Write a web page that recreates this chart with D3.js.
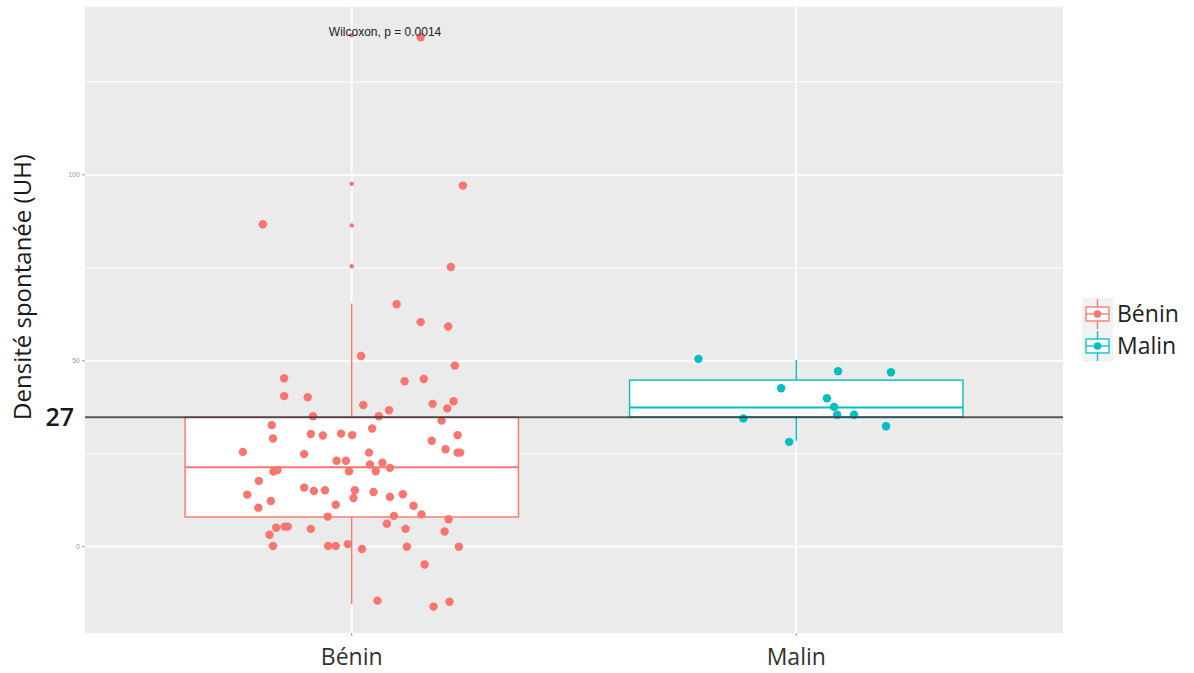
<!DOCTYPE html>
<html>
<head>
<meta charset="utf-8">
<script src="https://cdn.jsdelivr.net/npm/d3@7"></script>
<style>
  html, body { margin: 0; padding: 0; background: #fff; }
  svg { display: block; }
</style>
</head>
<body>
<svg id="chart" width="1194" height="673"></svg>
<script>
// ---------------- DATA ----------------
const categories = ["Bénin", "Malin"];
const seriesColors = ["#F8766D", "#00BFC4"];

// Box statistics: [lowerWhisker, q1, median, q3, upperWhisker]
const beninBox = [-15.4, 8.0, 21.4, 34.8, 65.4];
const malinBox = [28.5, 34.9, 37.4, 44.8, 50.2];

// Boxplot outliers (drawn on the category centre)
const beninOutliers = [137.5, 97.6, 86.4, 75.4];
const malinOutliers = [];

// Jittered observations: values and horizontal jitter (in category units)
const beninValues = [97.1, 86.7, 75.2, 65.2, 60.4, 59.2, 51.3, 48.7, 45.3, 44.5, 45.1, 40.5, 40.2, 38.1, 36.7, 38.4, 37.2, 39.1, 35.1, 35.1,
  33.9, 32.7, 29.1, 30.3, 29.9, 30.4, 30.0, 31.8, 28.5, 30.0, 25.5, 24.9, 25.3, 26.2, 25.3, 25.3, 23.1, 23.1, 22.1, 22.6,
  21.2, 20.2, 20.6, 20.3, 20.3, 17.7, 14.0, 15.9, 15.0, 15.2, 15.2, 13.1, 14.7, 13.4, 14.1, 12.3, 10.5, 11.3, 11.0, 8.1,
  8.3, 8.7, 7.4, 6.2, 5.1, 5.4, 5.4, 4.8, 4.8, 4.1, 3.2, 0.2, 0.2, 0.2, 0.7, -0.6, 0.0, 0.0, -4.8, -14.5,
  -16.1, -14.8, 137.0];
const beninJitter = [0.250, -0.200, 0.223, 0.101, 0.155, 0.217, 0.021, 0.232, -0.152, 0.119, 0.162, -0.152, -0.099, 0.026, 0.084, 0.182, 0.215, 0.229, -0.087, 0.061,
  0.202, -0.180, -0.177, -0.092, -0.065, -0.024, 0.001, 0.046, 0.180, 0.238, -0.245, -0.107, 0.039, 0.211, 0.238, 0.244, -0.034, -0.013, 0.041, 0.069,
  0.086, -0.176, -0.167, -0.006, 0.054, -0.209, -0.235, -0.107, -0.085, -0.060, 0.007, 0.004, 0.049, 0.086, 0.115, -0.182, -0.210, -0.036, 0.139, -0.054,
  0.095, 0.157, 0.218, 0.079, -0.170, -0.151, -0.144, -0.092, 0.121, 0.209, -0.185, -0.177, -0.053, -0.036, -0.009, 0.023, 0.124, 0.241, 0.164, 0.058,
  0.184, 0.220, 0.155];

const malinValues = [50.5, 47.2, 46.9, 42.6, 39.9, 37.6, 35.5, 35.5, 34.5, 32.4, 28.2];
const malinJitter = [-0.220, 0.094, 0.213, -0.034, 0.069, 0.085, 0.092, 0.130, -0.119, 0.202, -0.016];

// Axis ticks
const yMajorTicks = [0, 50, 100];
const yMinorTicks = [25, 75, 125];
const yDomain = [-23.2, 145.2];

// Reference line and its label
const refLineValue = 34.8;
const refLineLabel = "27";

const yTitle = "Densité spontanée (UH)";
const statText = "Wilcoxon, p = 0.0014";
const statTextValue = 138.5;
const statTextOffset = 0.075; // in category units, from first category

// ---------------- LAYOUT ----------------
const panel = { left: 85, right: 1063, top: 6.7, bottom: 633 };
const svg = d3.select("#chart");

const x = d3.scalePoint().domain(categories).range([panel.left, panel.right]).padding(0.6);
const step = x.step();
const y = d3.scaleLinear().domain(yDomain).range([panel.bottom, panel.top]);
const color = d3.scaleOrdinal().domain(categories).range(seriesColors);

// Panel background
svg.append("rect")
  .attr("x", panel.left).attr("y", panel.top)
  .attr("width", panel.right - panel.left).attr("height", panel.bottom - panel.top)
  .attr("fill", "#EBEBEB");

// Grid lines
const grid = svg.append("g");
grid.selectAll(".minor").data(yMinorTicks).join("line")
  .attr("x1", panel.left).attr("x2", panel.right)
  .attr("y1", d => y(d)).attr("y2", d => y(d))
  .attr("stroke", "#fff").attr("stroke-width", 1);
grid.selectAll(".major").data(yMajorTicks).join("line")
  .attr("x1", panel.left).attr("x2", panel.right)
  .attr("y1", d => y(d)).attr("y2", d => y(d))
  .attr("stroke", "#fff").attr("stroke-width", 1.8);
grid.selectAll(".vmajor").data(categories).join("line")
  .attr("x1", d => x(d)).attr("x2", d => x(d))
  .attr("y1", panel.top).attr("y2", panel.bottom)
  .attr("stroke", "#fff").attr("stroke-width", 1.8);

// Boxplots
const boxes = [
  { cat: "Bénin", stats: beninBox, outliers: beninOutliers },
  { cat: "Malin", stats: malinBox, outliers: malinOutliers }
];
const boxW = step * 0.75;
const gBox = svg.append("g");
boxes.forEach(b => {
  const cx = x(b.cat), c = color(b.cat);
  const [lo, q1, med, q3, hi] = b.stats;
  const g = gBox.append("g");
  g.append("line").attr("x1", cx).attr("x2", cx).attr("y1", y(hi)).attr("y2", y(q3))
    .attr("stroke", c).attr("stroke-width", 1.4);
  g.append("line").attr("x1", cx).attr("x2", cx).attr("y1", y(q1)).attr("y2", y(lo))
    .attr("stroke", c).attr("stroke-width", 1.4);
  g.append("rect").attr("x", cx - boxW / 2).attr("width", boxW)
    .attr("y", y(q3)).attr("height", y(q1) - y(q3))
    .attr("fill", "#fff").attr("stroke", c).attr("stroke-width", 1.4);
  g.append("line").attr("x1", cx - boxW / 2).attr("x2", cx + boxW / 2)
    .attr("y1", y(med)).attr("y2", y(med))
    .attr("stroke", c).attr("stroke-width", 2);
  g.selectAll("circle").data(b.outliers).join("circle")
    .attr("cx", cx).attr("cy", d => y(d)).attr("r", 2.2).attr("fill", c);
});

// Jittered points
const pts = [];
beninValues.forEach((v, i) => pts.push({ cat: "Bénin", v, j: beninJitter[i] }));
malinValues.forEach((v, i) => pts.push({ cat: "Malin", v, j: malinJitter[i] }));
svg.append("g").selectAll("circle").data(pts).join("circle")
  .attr("cx", d => x(d.cat) + d.j * step)
  .attr("cy", d => y(d.v))
  .attr("r", 4.2)
  .attr("fill", d => color(d.cat));

// Reference line
svg.append("line")
  .attr("x1", panel.left).attr("x2", panel.right)
  .attr("y1", y(refLineValue)).attr("y2", y(refLineValue))
  .attr("stroke", "#333").attr("stroke-opacity", 0.8).attr("stroke-width", 2);

// Stat annotation
svg.append("text")
  .attr("x", x(categories[0]) + statTextOffset * step)
  .attr("y", y(statTextValue) + 4)
  .attr("text-anchor", "middle")
  .attr("font-family", "Liberation Sans, Arial, sans-serif")
  .attr("font-size", 12)
  .attr("fill", "#222")
  .text(statText);

// Y axis ticks + labels
const yAxis = svg.append("g");
yAxis.selectAll("line").data(yMajorTicks).join("line")
  .attr("x1", panel.left - 3).attr("x2", panel.left)
  .attr("y1", d => y(d)).attr("y2", d => y(d))
  .attr("stroke", "#999").attr("stroke-width", 1);
yAxis.selectAll("text").data(yMajorTicks).join("text")
  .attr("x", panel.left - 5).attr("y", d => y(d))
  .attr("dy", "0.35em")
  .attr("text-anchor", "end")
  .attr("font-family", "Liberation Sans, Arial, sans-serif")
  .attr("font-size", 7)
  .attr("fill", "#9a9a9a")
  .text(d => d);

// Reference label
svg.append("text")
  .attr("x", 74).attr("y", y(refLineValue))
  .attr("dy", "0.36em")
  .attr("text-anchor", "end")
  .attr("font-family", "Open Sans, sans-serif")
  .attr("font-size", 25)
  .attr("font-weight", 600)
  .attr("fill", "#1a1a1a")
  .text(refLineLabel);

// X axis ticks + labels
const xAxis = svg.append("g");
xAxis.selectAll("line").data(categories).join("line")
  .attr("x1", d => x(d)).attr("x2", d => x(d))
  .attr("y1", panel.bottom).attr("y2", panel.bottom + 3)
  .attr("stroke", "#999");
xAxis.selectAll("text").data(categories).join("text")
  .attr("x", d => x(d)).attr("y", 665)
  .attr("text-anchor", "middle")
  .attr("font-family", "Open Sans, sans-serif")
  .attr("font-size", 23)
  .attr("fill", "#333")
  .text(d => d);

// Y title
svg.append("text")
  .attr("transform", `translate(31, ${(147 + 427) / 2}) rotate(-90)`)
  .attr("text-anchor", "middle")
  .attr("font-family", "Open Sans, sans-serif")
  .attr("font-size", 24)
  .attr("fill", "#1a1a1a")
  .text(yTitle);

// Legend
const legend = svg.append("g").attr("transform", "translate(1082, 298)");
const keyW = 31, keyH = 32;
categories.forEach((cat, i) => {
  const g = legend.append("g").attr("transform", `translate(0, ${i * keyH})`);
  const c = color(cat);
  g.append("rect").attr("width", keyW).attr("height", keyH).attr("fill", "#F2F2F2");
  const cx = keyW / 2, cy = keyH / 2;
  g.append("line").attr("x1", cx).attr("x2", cx).attr("y1", 1).attr("y2", keyH - 1)
    .attr("stroke", c).attr("stroke-width", 1.3);
  g.append("rect").attr("x", 4).attr("y", cy - 7).attr("width", keyW - 8).attr("height", 14)
    .attr("fill", "#fff").attr("stroke", c).attr("stroke-width", 1.3);
  g.append("line").attr("x1", 4).attr("x2", keyW - 4).attr("y1", cy).attr("y2", cy)
    .attr("stroke", c).attr("stroke-width", 1.3);
  g.append("circle").attr("cx", cx).attr("cy", cy).attr("r", 3.8).attr("fill", c);
  g.append("text").attr("x", keyW + 4).attr("y", cy).attr("dy", "0.36em")
    .attr("font-family", "Open Sans, sans-serif").attr("font-size", 23)
    .attr("fill", "#222").text(cat);
});
</script>
</body>
</html>
